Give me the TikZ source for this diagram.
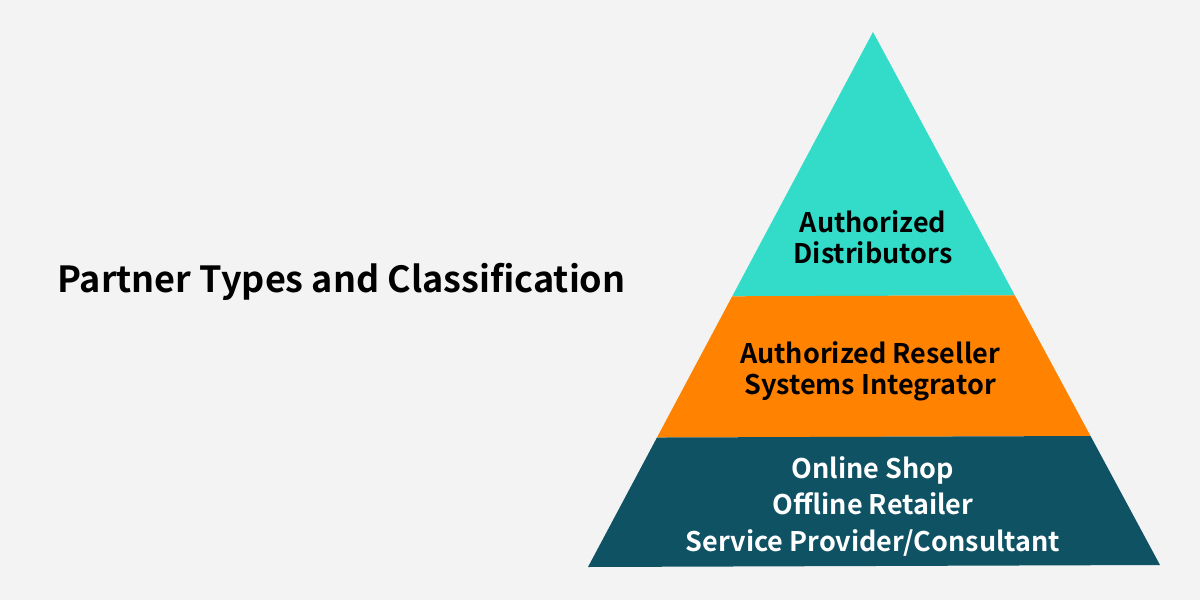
\documentclass[tikz,border=0pt]{standalone}
\usepackage{fontspec}
\setmainfont{Noto Sans CJK SC}[BoldFont={Noto Sans CJK SC Bold}]
\usetikzlibrary{calc}
\definecolor{bgray}{HTML}{F3F3F3}
\definecolor{topteal}{HTML}{32DCC8}
\definecolor{midorange}{HTML}{FF8200}
\definecolor{basepetrol}{HTML}{0E5264}
\tikzset{
  tier/.style={draw=none, fill=#1},
  tiertext/.style={align=center, font=\bfseries\fontsize{27}{31}\selectfont, inner sep=0pt}
}

\begin{document}
\begin{tikzpicture}[x=1pt, y=-1pt]
                \fill[bgray](0,0) rectangle (1200,600);
                \useasboundingbox (0,0) rectangle (1200,600);
                \coordinate (apex) at (873,32);
                \coordinate (bl) at (588,567);
                \coordinate (br) at (1160,565);
                \coordinate (l1) at ($(apex)!0.494!(bl)$);
                \coordinate (r1) at ($(apex)!0.494!(br)$);
                \coordinate (l2) at ($(apex)!0.758!(bl)$);
                \coordinate (r2) at ($(apex)!0.758!(br)$);
                \fill[tier=topteal](apex)--(r1)--(l1)--cycle;
                \fill[tier=midorange](l1)--(r1)--(r2)--(l2)--cycle;
                \fill[tier=basepetrol](l2)--(r2)--(br)--(bl)--cycle;
                \node[anchor=base west, font=\bfseries\fontsize{36}{40}\selectfont, inner sep=0pt] (title) at (57,292) {Partner Types and Classi{}fication};
                \node[tiertext] (distributors) at (873,237) {Authorized\\Distributors};
                \node[tiertext] (resellers) at (870,371) {Authorized Reseller\\Systems Integrator};
                \node[tiertext, text=white, font=\bfseries\fontsize{27}{36.5}\selectfont] (shops) at (873,506) {Online Shop\\Offline Retailer\\Service Provider/Consultant};
            \end{tikzpicture}
\end{document}
